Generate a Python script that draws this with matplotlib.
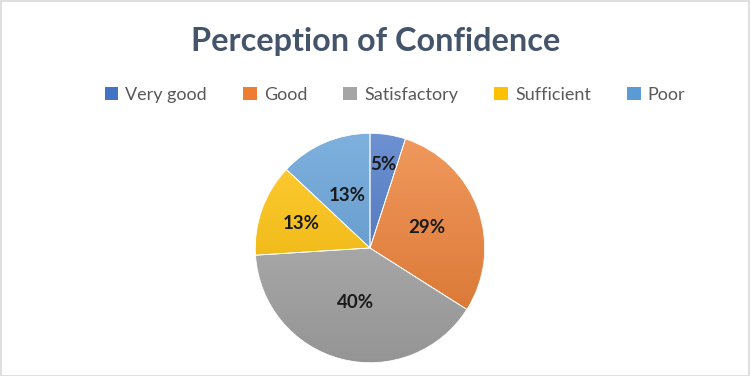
import numpy as np
import matplotlib
matplotlib.use("Agg")
import matplotlib.pyplot as plt
from matplotlib.colors import LinearSegmentedColormap, to_rgb
from matplotlib.patches import Rectangle

categories = ["Very good", "Good", "Satisfactory", "Sufficient", "Poor"]
values = [5, 29, 40, 13, 13]
colors = ["#4472C4", "#ED7D31", "#A5A5A5", "#FFC000", "#5B9BD5"]
label_dist = [0.74, 0.53, 0.49, 0.64, 0.50]

plt.rcParams['font.family'] = ['Lato', 'DejaVu Sans']

fig = plt.figure(figsize=(7.51, 3.76), dpi=100)
fig.patch.set_facecolor("white")
fig.patches.append(Rectangle((0.001, 0.001), 0.997, 0.996, transform=fig.transFigure,
                             fill=False, edgecolor="#D9D9D9", linewidth=1.2))

ax = fig.add_axes([253/751, 11/376, 234/751, 234/376])
wedges, _ = ax.pie(values, colors=colors, startangle=90, counterclock=False,
                   radius=1, wedgeprops=dict(linewidth=0.6, edgecolor="white"))
ax.set_xlim(-1.02, 1.02)
ax.set_ylim(-1.02, 1.02)
ax.set_aspect("equal")
ax.axis("off")

# gradient fill per wedge
grad = np.linspace(0, 1, 256).reshape(-1, 1)
for w, c in zip(wedges, colors):
    r, g, b = to_rgb(c)
    light = tuple(min(1, v + (1 - v) * 0.22) for v in (r, g, b))
    dark = tuple(v * 0.9 for v in (r, g, b))
    cmap = LinearSegmentedColormap.from_list("g", [dark, light])
    im = ax.imshow(grad, cmap=cmap, extent=(-1, 1, -1, 1), origin="lower",
                   aspect="auto", zorder=w.get_zorder() + 0.1)
    im.set_clip_path(w)
    w.set_facecolor("none")
    w.set_zorder(w.get_zorder() + 0.2)

total = sum(values)
for w, v, d in zip(wedges, values, label_dist):
    ang = np.deg2rad((w.theta1 + w.theta2) / 2)
    ax.text(d * np.cos(ang), d * np.sin(ang), f"{round(100 * v / total)}%",
            ha="center", va="center", fontsize=13.5, fontweight="bold",
            color="#1a1a1a", zorder=10)

fig.text(0.5, 1 - 42/376, "Perception of Confidence", ha="center", va="center",
         fontsize=23.3, fontweight="bold", color="#44546A")

handles = [Rectangle((0, 0), 1, 1, facecolor=c) for c in colors]
fig.legend(handles, categories, loc="center", bbox_to_anchor=(395/751, 1 - 95/376),
           ncol=5, frameon=False, fontsize=13, handlelength=0.75, handleheight=0.75,
           handletextpad=0.4, columnspacing=2.0, labelcolor="#595959")

fig.savefig("out.png", dpi=100, facecolor="white")
